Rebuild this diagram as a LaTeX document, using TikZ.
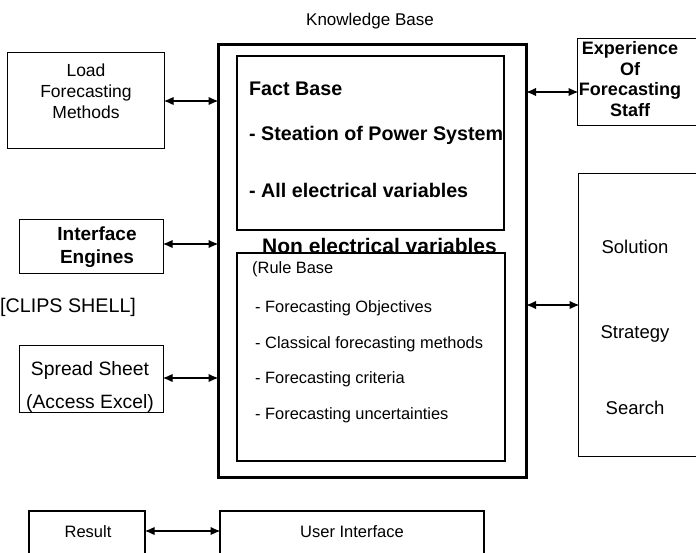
\documentclass[tikz,border=0pt]{standalone}
\usepackage{fontspec}
\setmainfont{Liberation Sans}
\usetikzlibrary{arrows.meta}

\tikzset{
  box/.style={draw, line width=#1, fill=white, inner sep=0pt, anchor=north west},
  box/.default=1.2pt,
  txt/.style={inner sep=0pt, align=center, font=\fontsize{17.5}{21}\selectfont},
  btxt/.style={inner sep=0pt, align=center, font=\fontsize{19}{23}\selectfont\bfseries},
  ftxt/.style={inner sep=0pt, anchor=base west, font=\fontsize{19.7}{22}\selectfont\bfseries},
  rtxt/.style={inner sep=0pt, anchor=base west, font=\fontsize{16.4}{19}\selectfont},
  link/.style={line width=1.3pt, shorten <=-1.5pt, shorten >=-1.5pt,
    {Latex[length=10pt,width=8.5pt]}-{Latex[length=10pt,width=8.5pt]}}
}

\begin{document}
\begin{tikzpicture}[x=1pt,y=-1pt]
\clip (0,0) rectangle (696,552);
\fill[white] (0,0) rectangle (696,552);

% knowledge base frame
\node[txt, font=\fontsize{17}{20}\selectfont] (kbtitle) at (370,21) {Knowledge Base};
\node[box=2.6pt, minimum width=308pt, minimum height=433pt] (kb) at (217,43) {};

% fact base
\node[box=2.2pt, minimum width=267pt, minimum height=174pt] (fact) at (236,55) {};
\node[ftxt] (f1) at (249,95) {Fact Base};
\node[ftxt] (f2) at (249,140) {- Steation of Power System};
\node[ftxt] (f3) at (249,197) {- All electrical variables};
\node[ftxt, font=\fontsize{21}{24}\selectfont\bfseries] (f4) at (262,253) {Non electrical variables};

% rule base (covers the foot of the line above)
\node[box=2.2pt, minimum width=268pt, minimum height=208pt] (rule) at (236,252) {};
\node[rtxt] (r0) at (252,273) {(Rule Base};
\node[rtxt] (r1) at (255,312) {- Forecasting Objectives};
\node[rtxt] (r2) at (255,348) {- Classical forecasting methods};
\node[rtxt] (r3) at (255,383) {- Forecasting criteria};
\node[rtxt] (r4) at (255,419) {- Forecasting uncertainties};

% left column
\node[box=1.2pt, minimum width=157pt, minimum height=96pt] (load) at (7,52) {};
\node[txt] (loadt) at (86,91) {Load\\Forecasting\\Methods};

\node[box=1.2pt, minimum width=144pt, minimum height=54pt] (ie) at (19,219) {};
\node[btxt] (iet) at (97,247) {Interface\\Engines};

\node[txt, font=\fontsize{19.7}{22}\selectfont, anchor=west] (clips) at (0,307) {[CLIPS SHELL]};

\node[box=1.2pt, minimum width=144pt, minimum height=67pt] (ss) at (19,345) {};
\node[txt, font=\fontsize{19.3}{33}\selectfont] (sst) at (90,387) {Spread Sheet\\(Access Excel)};

% right column
\node[box=1.3pt, minimum width=140pt, minimum height=87pt] (exp) at (577,38) {};
\node[btxt, font=\fontsize{18}{20.5}\selectfont\bfseries] (expt) at (630,79) {Experience\\Of\\Forecasting\\Staff};

\node[box=1.2pt, minimum width=140pt, minimum height=283pt] (sol) at (578,173) {};
\node[txt, font=\fontsize{18.5}{21}\selectfont] (s1) at (635,247) {Solution};
\node[txt, font=\fontsize{18.5}{21}\selectfont] (s2) at (635,334) {Strategy};
\node[txt, font=\fontsize{18.5}{21}\selectfont] (s3) at (635,408) {Search};

% bottom row
\node[box=2.2pt, minimum width=116pt, minimum height=60pt] (res) at (28,510) {};
\node[txt, font=\fontsize{16.5}{20}\selectfont] (rest) at (88,532) {Result};
\node[box=2.2pt, minimum width=264pt, minimum height=60pt] (ui) at (219,510) {};
\node[txt, font=\fontsize{16.5}{20}\selectfont] (uit) at (352,532) {User Interface};

% connectors
\draw[link] (load.east |- 0,101) -- (kb.west |- 0,101);
\draw[link] (ie.east |- 0,244) -- (kb.west |- 0,244);
\draw[link] (ss.east |- 0,378) -- (kb.west |- 0,378);
\draw[link] (kb.east |- 0,92) -- (exp.west |- 0,92);
\draw[link] (kb.east |- 0,305) -- (sol.west |- 0,305);
\draw[link] (res.east |- 0,531) -- (ui.west |- 0,531);
\end{tikzpicture}
\end{document}
